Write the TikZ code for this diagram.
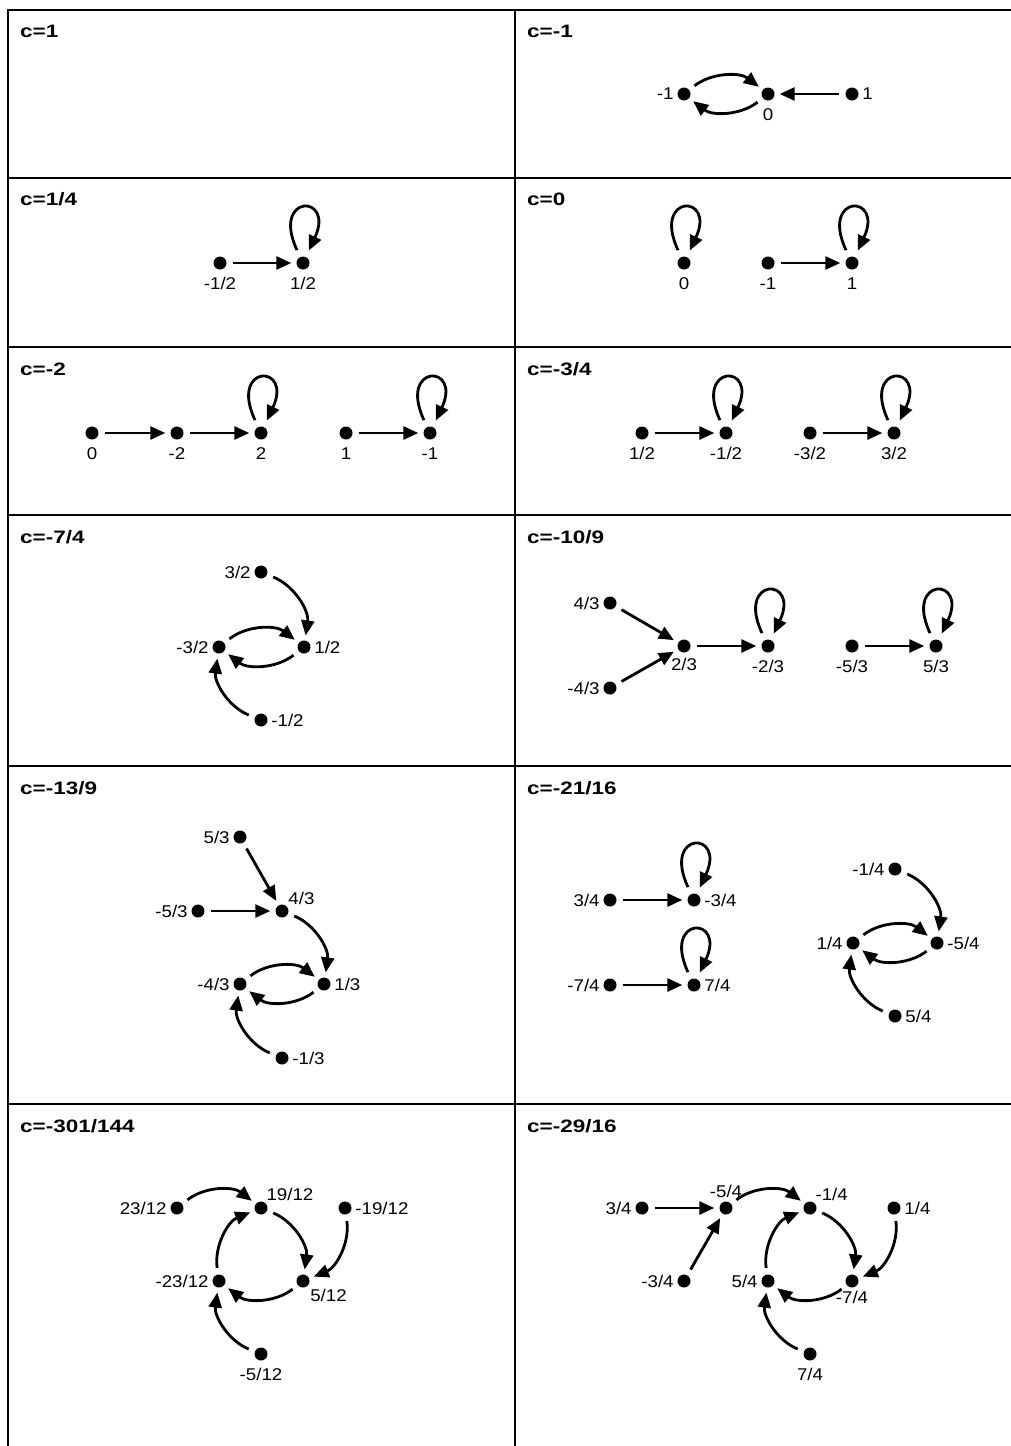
\documentclass[tikz,border=0pt]{standalone}
\usepackage{fontspec}
\setmainfont{Liberation Sans}[FakeStretch=1.1]
\newfontfamily\titlefont{Liberation Sans}[FakeStretch=1.25]
\usetikzlibrary{arrows.meta}
\newcommand\selfloop[1]{\draw[arr,shorten <=7.5pt,shorten >=7pt] (#1.115) .. controls +(115:70pt) and +(65:70pt) .. (#1.65);}
\begin{document}
\begin{tikzpicture}[x=1pt,y=-1pt,
  dot/.style={circle,fill=black,inner sep=0pt,minimum size=13pt},
  arr/.style={line width=2.8pt,-{Triangle[length=15pt,width=13pt]},shorten <=6.5pt,shorten >=5pt},
  bl/.style={bend left=38},
  gridline/.style={line width=2.5pt},
  ttl/.style={font=\titlefont\fontsize{18}{18}\selectfont\bfseries, anchor=base west, inner sep=0pt},
  every label/.style={font=\fontsize{17}{17}\selectfont, inner sep=1.5pt},
  label distance=2pt,
  B/.style={label={[label distance=6pt]below:#1}},
  L/.style={label={left:#1}},
  R/.style={label={right:#1}}]
\useasboundingbox (0,0) rectangle (1010,1446);
% table
\draw[gridline] (8,1446) -- (8,10) -- (1012,10);
\draw[gridline] (515,10) -- (515,1446);
\foreach \yy in {178,347,515,766,1104} \draw[gridline] (8,\yy) -- (1012,\yy);
% titles
\node[ttl] (t1) at (20,37) {c=1};
\node[ttl] (t2) at (527,37) {c=-1};
\node[ttl] (t3) at (20,205) {c=1/4};
\node[ttl] (t4) at (527,205) {c=0};
\node[ttl] (t5) at (20,375) {c=-2};
\node[ttl] (t6) at (527,375) {c=-3/4};
\node[ttl] (t7) at (20,543) {c=-7/4};
\node[ttl] (t8) at (527,543) {c=-10/9};
\node[ttl] (t9) at (20,794) {c=-13/9};
\node[ttl] (t10) at (527,794) {c=-21/16};
\node[ttl] (t11) at (20,1132) {c=-301/144};
\node[ttl] (t12) at (527,1132) {c=-29/16};
% c=-1
\node[dot,L=-1] (a1) at (684,94) {};
\node[dot,B=0] (a0) at (768,94) {};
\node[dot,R=1] (ap) at (852,94) {};
\draw[arr,bl] (a1) to (a0);
\draw[arr,bl] (a0) to (a1);
\draw[arr] (ap) -- (a0);
% c=1/4
\node[dot,B=-1/2] (b1) at (220,263) {};
\node[dot,B=1/2] (b2) at (303,263) {};
\draw[arr] (b1) -- (b2); \selfloop{b2}
% c=0
\node[dot,B=0] (c0) at (684,263) {};
\node[dot,B=-1] (c1) at (768,263) {};
\node[dot,B=1] (c2) at (852,263) {};
\selfloop{c0} \selfloop{c2}
\draw[arr] (c1) -- (c2);
% c=-2
\node[dot,B=0] (d0) at (92,433) {};
\node[dot,B=-2] (d1) at (177,433) {};
\node[dot,B=2] (d2) at (261,433) {};
\node[dot,B=1] (d3) at (346,433) {};
\node[dot,B=-1] (d4) at (430,433) {};
\draw[arr] (d0) -- (d1); \draw[arr] (d1) -- (d2); \draw[arr] (d3) -- (d4);
\selfloop{d2} \selfloop{d4}
% c=-3/4
\node[dot,B=1/2] (e1) at (642,433) {};
\node[dot,B=-1/2] (e2) at (726,433) {};
\node[dot,B=-3/2] (e3) at (810,433) {};
\node[dot,B=3/2] (e4) at (894,433) {};
\draw[arr] (e1) -- (e2); \draw[arr] (e3) -- (e4);
\selfloop{e2} \selfloop{e4}
% c=-7/4
\node[dot,L=3/2] (f1) at (261,572) {};
\node[dot,R=1/2] (f2) at (304,647) {};
\node[dot,L=-3/2] (f3) at (219,647) {};
\node[dot,R=-1/2] (f4) at (261,720) {};
\draw[arr,bl] (f1) to (f2);
\draw[arr,bl] (f3) to (f2);
\draw[arr,bl] (f2) to (f3);
\draw[arr,bl] (f4) to (f3);
% c=-10/9
\node[dot,L=4/3] (g1) at (610,603) {};
\node[dot,label={[label distance=4pt]below:2/3}] (g2) at (684,646) {};
\node[dot,L=-4/3] (g3) at (610,688) {};
\node[dot,B=-2/3] (g4) at (768,646) {};
\node[dot,B=-5/3] (g5) at (852,646) {};
\node[dot,B=5/3] (g6) at (936,646) {};
\draw[arr] (g1) -- (g2); \draw[arr] (g3) -- (g2); \draw[arr] (g2) -- (g4); \draw[arr] (g5) -- (g6);
\selfloop{g4} \selfloop{g6}
% c=-13/9
\node[dot,L=5/3] (h1) at (240,837) {};
\node[dot,label={[label distance=0pt]45:4/3}] (h2) at (282,911) {};
\node[dot,L=-5/3] (h3) at (198,911) {};
\node[dot,R=1/3] (h4) at (324,984) {};
\node[dot,L=-4/3] (h5) at (240,984) {};
\node[dot,R=-1/3] (h6) at (282,1058) {};
\draw[arr] (h1) -- (h2); \draw[arr] (h3) -- (h2);
\draw[arr,bl] (h2) to (h4);
\draw[arr,bl] (h5) to (h4);
\draw[arr,bl] (h4) to (h5);
\draw[arr,bl] (h6) to (h5);
% c=-21/16
\node[dot,L=3/4] (i1) at (610,900) {};
\node[dot,R=-3/4] (i2) at (694,900) {};
\node[dot,L=-7/4] (i3) at (610,985) {};
\node[dot,R=7/4] (i4) at (694,985) {};
\node[dot,L=-1/4] (i5) at (895,869) {};
\node[dot,L=1/4] (i6) at (853,943) {};
\node[dot,R=-5/4] (i7) at (937,943) {};
\node[dot,R=5/4] (i8) at (895,1016) {};
\draw[arr] (i1) -- (i2); \draw[arr] (i3) -- (i4);
\selfloop{i2} \selfloop{i4}
\draw[arr,bl] (i5) to (i7);
\draw[arr,bl] (i6) to (i7);
\draw[arr,bl] (i7) to (i6);
\draw[arr,bl] (i8) to (i6);
% c=-301/144
\node[dot,L=23/12] (j1) at (177,1208) {};
\node[dot,label={[label distance=0pt]55:19/12}] (j2) at (261,1208) {};
\node[dot,R=-19/12] (j3) at (345,1208) {};
\node[dot,L=-23/12] (j4) at (219,1281) {};
\node[dot,label={[label distance=2pt]-50:5/12}] (j5) at (303,1281) {};
\node[dot,B=-5/12] (j6) at (261,1354) {};
\draw[arr,bl] (j1) to (j2);
\draw[arr,bl] (j2) to (j5);
\draw[arr,bl] (j3) to (j5);
\draw[arr,bl] (j5) to (j4);
\draw[arr,bl] (j4) to (j2);
\draw[arr,bl] (j6) to (j4);
% c=-29/16
\node[dot,L=3/4] (k1) at (642,1208) {};
\node[dot,label={[label distance=2pt]above:-5/4}] (k2) at (726,1208) {};
\node[dot,label={[label distance=0pt]55:-1/4}] (k3) at (810,1208) {};
\node[dot,R=1/4] (k4) at (894,1208) {};
\node[dot,L=-3/4] (k5) at (684,1281) {};
\node[dot,L=5/4] (k6) at (768,1281) {};
\node[dot,label={[label distance=2pt]below:-7/4}] (k7) at (852,1281) {};
\node[dot,B=7/4] (k8) at (810,1354) {};
\draw[arr] (k1) -- (k2); \draw[arr] (k5) -- (k2);
\draw[arr,bl] (k2) to (k3);
\draw[arr,bl] (k3) to (k7);
\draw[arr,bl] (k4) to (k7);
\draw[arr,bl] (k7) to (k6);
\draw[arr,bl] (k6) to (k3);
\draw[arr,bl] (k8) to (k6);
\end{tikzpicture}
\end{document}
